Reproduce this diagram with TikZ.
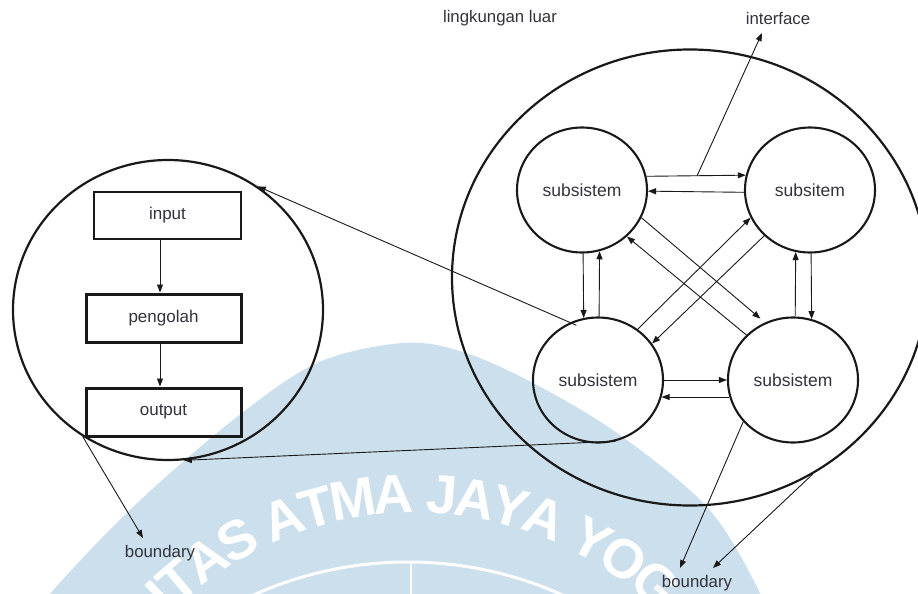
\documentclass[tikz,border=0pt]{standalone}
\usepackage{fontspec}
\setmainfont{Liberation Sans}
\usetikzlibrary{shapes.geometric,arrows.meta,calc}
\definecolor{wmblue}{RGB}{203,223,236}
\definecolor{ink}{RGB}{25,25,25}
\definecolor{txt}{RGB}{50,50,60}

\begin{document}
\begin{tikzpicture}[x=1pt,y=-1pt,
  lbl/.style={font=\fontsize{16.8}{20}\selectfont, text=txt, inner sep=0pt},
  sub/.style={ellipse, draw=ink, line width=2.1pt, minimum width=130pt, minimum height=125pt,
              inner sep=0pt, font=\fontsize{17.5}{20}\selectfont, text=txt},
  sys/.style={ellipse, draw=ink, line width=2.2pt, inner sep=0pt},
  blk/.style={rectangle, draw=ink, line width=3pt, inner sep=0pt, minimum height=48pt,
              minimum width=155pt, font=\fontsize{17}{20}\selectfont, text=txt},
  arr/.style={draw=ink, line width=0.9pt, -{Triangle[length=8pt,width=6pt]}},
  wmletter/.style={text=white, font=\bfseries\fontsize{55}{60}\selectfont, anchor=base, inner sep=0pt},
]
\useasboundingbox (0,0) rectangle (918,594);

% background seal
\begin{scope}
  \clip (0,0) rectangle (918,594);
  \fill[wmblue] plot[smooth,tension=0.55] coordinates {
      (20,640) (50,594) (133,507) (233,420) (317,363) (403,343) (463,352)
      (533,383) (617,433) (707,507) (757,587) (775,640)} -- cycle;
  \draw[white,line width=3pt] (408,939) circle[radius=377];
  \draw[white,line width=2pt] (411,562) -- (411,600);
  \foreach \ch/\e [count=\k] in {I/-2.417,T/-1.9725,A/-1.306,S/-0.6115,
      A/0.361,T/1.0275,M/1.7495,A/2.527,J/3.444,A/4.083,Y/4.7775,A/5.472,
      Y/6.4445,O/7.167,G/7.945}
    \node[wmletter, rotate={24.1-8.215*\e}] (wl\k)
      at ({415+347*cos(114.1-8.215*\e)}, {860-347*sin(114.1-8.215*\e)}) {\ch};
\end{scope}

% the two systems
\node[sys, minimum width=310pt, minimum height=300pt] (L) at (168,310) {};
\node[sys, minimum width=476pt, minimum height=456pt] (R) at (690,277.5) {};

% input - process - output chain
\node[blk, line width=2.4pt, minimum width=147pt, minimum height=47pt] (inp) at (167.5,215.5) {input};
\node[blk] (proc) at (163.5,318) {pengolah};
\node[blk] (outp) at (163.5,412) {output};
\coordinate (ax) at (160,0);
\draw[arr] (inp.south -| ax) -- (proc.north -| ax);
\draw[arr] (proc.south -| ax) -- (outp.north -| ax);

% subsystems
\node[sub] (TL) at (582,190) {subsistem};
\node[sub] (TR) at (810,190) {subsitem};
\node[sub] (BL) at (598,380) {subsistem};
\node[sub] (BR) at (793,380) {subsistem};

% horizontal pairs
\draw[arr] (TL.12.5) -- (TR.167.5);
\draw[arr] (TR.-178.2) -- (TL.-1.8);
\draw[arr] (BL.-0.9) -- (BR.180.9);
\draw[arr] (BR.195.2) -- (BL.-15.2);
% vertical pairs
\draw[arr] (TL.-89) -- (BL.103.9);
\draw[arr] (BL.89) -- (TL.-74.3);
\draw[arr] (BR.88.2) -- (TR.-103.9);
\draw[arr] (TR.-89) -- (BR.73.3);
% diagonals
\draw[arr, shorten >=6pt] (TL.-25.8) -- (BR.116.2);
\draw[arr] (BR.136.2) -- (TL.-46.2);
\draw[arr] (BL.52.3) -- (TR.205);
\draw[arr] (TR.225) -- (BL.34.4);

% labels
\node[lbl] (env) at (500,18) {lingkungan luar};
\node[lbl] (ifc) at (778,18) {interface};
\node[lbl] (bdL) at (160,553) {boundary};
\node[lbl] (bdR) at (697,583) {boundary};

% links between the systems and to the labels
\coordinate (ifcTip) at (762,33);
\draw[arr] ($(TL.12.5)!0.51!(TR.167.5)$) -- (ifcTip);
\draw[arr, shorten <=-7pt] (BL.116) -- (L.54.7);
\draw[arr] (BL.-74.7) -- (L.-84.2);
\coordinate (bdLtip) at (143,538);
\draw[arr] (L.-124) -- (bdLtip);
\coordinate (bdRtipA) at (680,568);
\coordinate (bdRtipB) at (713,568);
\draw[arr] (BR.220.1) -- (bdRtipA);
\draw[arr] (R.-58.7) -- (bdRtipB);
\end{tikzpicture}
\end{document}
